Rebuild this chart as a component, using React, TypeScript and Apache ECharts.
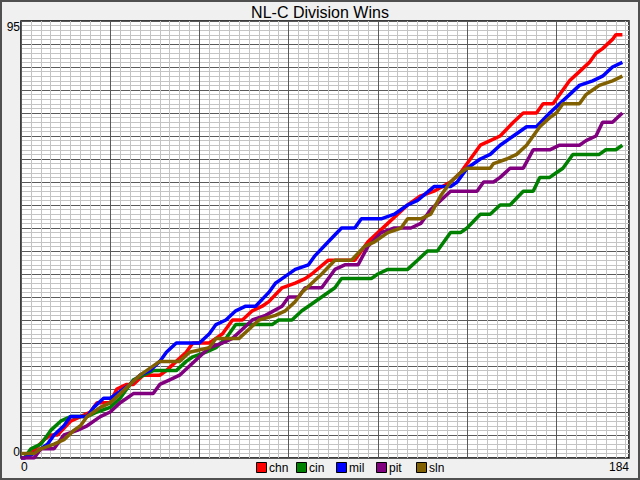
import { useEffect, useRef } from "react";
import * as echarts from "echarts";

const teams = ["chn", "cin", "mil", "pit", "sln"];

const chnWins = [
  [0, 0], [1, 0], [3, 1], [7, 4], [9, 5], [11, 5], [15, 8], [18, 9], [21, 10], [23, 12], [27, 12],
  [29, 15], [32, 16], [34, 16], [37, 18], [42, 18], [44, 19], [47, 21], [50, 23], [52, 25], [57, 25],
  [59, 26], [61, 27], [64, 30], [67, 30], [70, 32], [73, 33], [75, 34], [79, 37], [83, 38], [86, 39],
  [88, 40], [93, 43], [101, 43], [105, 47], [108, 49], [111, 51], [114, 53], [117, 55], [121, 57],
  [125, 58], [130, 60], [133, 62], [136, 65], [139, 68], [142, 69], [145, 70], [149, 73], [152, 75],
  [156, 75], [158, 77], [161, 77], [164, 80], [166, 82], [169, 84], [172, 86], [174, 88], [176, 89],
  [179, 91], [180, 92], [182, 92],
];

const cinWins = [
  [1, 0], [3, 2], [6, 3], [9, 6], [12, 8], [15, 9], [20, 9], [23, 10], [27, 11], [30, 13], [34, 17],
  [40, 19], [47, 19], [50, 21], [52, 22], [56, 23], [59, 24], [62, 26], [65, 29], [76, 29], [78, 30],
  [82, 30], [85, 32], [87, 33], [91, 35], [95, 37], [97, 39], [106, 39], [108, 40], [111, 41], [117, 41],
  [120, 43], [123, 45], [126, 45], [130, 49], [133, 49], [135, 50], [139, 53], [142, 53], [145, 55],
  [148, 55], [152, 58], [155, 58], [157, 61], [160, 61], [162, 62], [164, 63], [167, 66], [175, 66],
  [177, 67], [180, 67], [182, 68],
];

const milWins = [
  [0, 0], [1, 0], [4, 1], [8, 3], [10, 5], [13, 7], [15, 9], [20, 9], [22, 11], [25, 13], [27, 13],
  [29, 14], [33, 16], [36, 18], [39, 19], [42, 21], [44, 23], [47, 25], [54, 25], [57, 27], [59, 29],
  [62, 30], [65, 32], [68, 33], [71, 33], [75, 36], [77, 38], [79, 39], [83, 41], [87, 42], [89, 44],
  [93, 47], [97, 50], [101, 50], [103, 52], [109, 52], [113, 53], [117, 55], [120, 56], [125, 59],
  [130, 59], [132, 60], [135, 63], [139, 65], [142, 66], [145, 68], [149, 70], [153, 72], [156, 72],
  [160, 75], [163, 77], [166, 79], [169, 81], [173, 82], [176, 83], [179, 85], [182, 86],
];

const pitWins = [
  [0, 0], [4, 0], [6, 2], [10, 2], [13, 5], [17, 6], [20, 7], [24, 9], [27, 10], [30, 12], [32, 13],
  [34, 14], [40, 14], [42, 16], [45, 17], [48, 18], [51, 20], [54, 22], [57, 24], [61, 25], [64, 26],
  [67, 28], [70, 30], [74, 31], [79, 33], [81, 35], [84, 35], [86, 37], [91, 37], [95, 41], [98, 42],
  [102, 42], [105, 46], [109, 49], [113, 50], [118, 50], [121, 51], [124, 54], [130, 58], [138, 58],
  [140, 60], [143, 60], [145, 61], [148, 63], [152, 63], [155, 67], [160, 67], [163, 68], [169, 68],
  [171, 69], [174, 70], [176, 73], [179, 73], [182, 75],
];

const slnWins = [
  [0, 1], [4, 1], [6, 2], [10, 3], [13, 4], [16, 6], [18, 7], [20, 9], [22, 10], [24, 11], [27, 12],
  [30, 14], [33, 16], [36, 18], [38, 19], [42, 21], [48, 21], [51, 23], [57, 24], [59, 26], [66, 26],
  [69, 28], [72, 30], [77, 31], [80, 32], [83, 34], [85, 36], [88, 38], [91, 40], [95, 43], [100, 43],
  [104, 46], [107, 47], [111, 49], [115, 50], [117, 52], [121, 52], [124, 53], [127, 57], [130, 60],
  [133, 62], [135, 63], [142, 63], [143, 64], [147, 65], [150, 66], [153, 68], [157, 72], [160, 74],
  [162, 75], [164, 77], [169, 77], [171, 79], [173, 80], [175, 81], [179, 82], [182, 83],
];

const seriesValues = [chnWins, cinWins, milWins, pitWins, slnWins];
const xTickLabels = [0, 184];
const yTickLabels = [0, 95];

const teamColors = ["#ff0000", "#008000", "#0000ff", "#800080", "#806000"];
const FONT = "'Liberation Sans', Arial, sans-serif";

export default function App() {
  const ref = useRef<HTMLDivElement>(null);

  useEffect(() => {
    document.body.style.margin = "0";
    const chart = echarts.init(ref.current as HTMLDivElement, null, {
      renderer: "svg",
      width: 640,
      height: 480,
    });

    const legendGraphics: any[] = [];
    teams.forEach((t, i) => {
      const x0 = 256 + 40 * i;
      legendGraphics.push({
        type: "rect",
        shape: { x: x0 + 0.5, y: 462.5, width: 10, height: 10 },
        style: { fill: teamColors[i], stroke: "#000", lineWidth: 1 },
        z: 10,
      });
      legendGraphics.push({
        type: "text",
        x: x0 + 13,
        y: 467.5,
        style: {
          text: t,
          fill: "#000",
          font: `12px ${FONT}`,
          textVerticalAlign: "middle",
          verticalAlign: "middle",
        },
        z: 10,
      });
    });

    const option: any = {
      animation: false,
      backgroundColor: "#f0f0f0",
      title: {
        text: "NL-C Division Wins",
        left: "center",
        top: 4,
        padding: 0,
        textStyle: { fontSize: 16, fontWeight: "normal", color: "#000", fontFamily: FONT },
      },
      grid: {
        left: 21,
        top: 21,
        right: 11,
        bottom: 22,
        show: true,
        backgroundColor: "#ffffff",
        borderColor: "#000000",
        borderWidth: 1.5,
      },
      xAxis: [
        {
          type: "value",
          min: 0,
          max: 184,
          interval: 3,
          position: "bottom",
          axisLine: { show: false },
          axisTick: { show: false },
          axisLabel: { show: false },
          splitLine: { show: true, lineStyle: { color: "#c4c4c4", width: 1 } },
        },
        {
          type: "value",
          min: 0,
          max: 184,
          interval: 27,
          position: "bottom",
          axisLine: { show: false },
          axisTick: { show: false },
          axisLabel: {
            customValues: xTickLabels,
            alignMinLabel: "left",
            alignMaxLabel: "right",
            margin: 3,
            fontSize: 12,
            color: "#000",
            fontFamily: FONT,
          },
          splitLine: { show: true, lineStyle: { color: "#5a5a5a", width: 1 } },
        },
      ],
      yAxis: [
        {
          type: "value",
          min: 0,
          max: 95,
          interval: 5,
          axisLine: { show: false },
          axisTick: { show: false },
          minorTick: { show: false, splitNumber: 5 },
          minorSplitLine: { show: true, lineStyle: { color: "#c4c4c4", width: 1 } },
          axisLabel: {
            customValues: yTickLabels,
            verticalAlignMinLabel: "bottom",
            verticalAlignMaxLabel: "top",
            margin: 1,
            fontSize: 12,
            color: "#000",
            fontFamily: FONT,
          },
          splitLine: { show: true, lineStyle: { color: "#5a5a5a", width: 1 } },
        },
      ],
      series: teams.map((t, i) => ({
        name: t,
        type: "line",
        xAxisIndex: 1,
        yAxisIndex: 0,
        data: seriesValues[i],
        showSymbol: false,
        symbol: "none",
        lineStyle: { color: teamColors[i], width: 3.5 },
        itemStyle: { color: teamColors[i] },
        z: 2 + i,
      })),
      graphic: [
        {
          type: "rect",
          shape: { x: 1, y: 1, width: 638, height: 478 },
          style: { fill: "none", stroke: "#505050", lineWidth: 2 },
          z: 10,
        },
        ...legendGraphics,
      ],
    };

    chart.setOption(option);
    return () => chart.dispose();
  }, []);

  return <div ref={ref} style={{ width: 640, height: 480 }} />;
}
